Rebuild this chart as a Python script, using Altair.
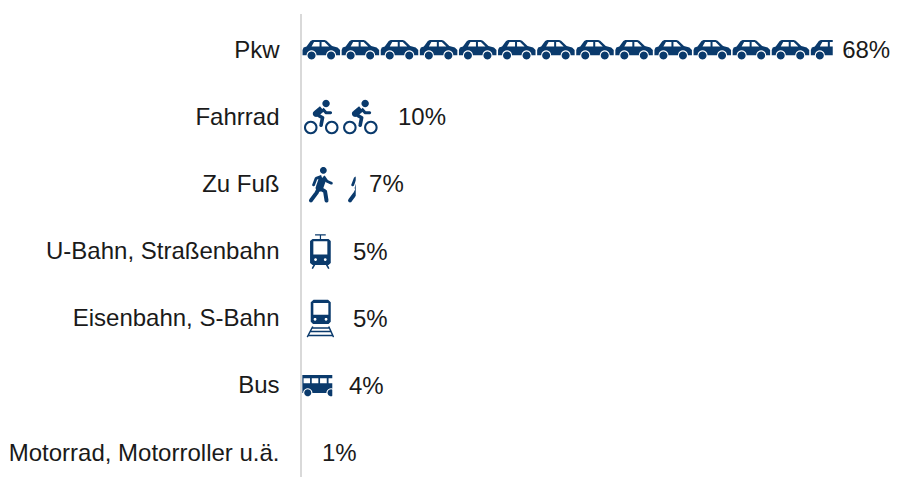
import math
import altair as alt
import pandas as pd

categories = ["Pkw", "Fahrrad", "Zu Fuß", "U-Bahn, Straßenbahn", "Eisenbahn, S-Bahn", "Bus", "Motorrad, Motorroller u.ä."]
values = [68, 10, 7, 5, 5, 4, 1]
labels = ["68%", "10%", "7%", "5%", "5%", "4%", "1%"]
label_pos = [69.2, 12.4, 8.7, 6.65, 6.65, 6.14, 2.68]
icon_keys = ["car", "bike", "walk", "tram", "train", "bus", "none"]
icon_unit = 5

NAVY = "#0a3a6c"
U = 19.55  # reference pixels per path unit


def P(x, y):
    return f"{x / U:.4f},{y / U:.4f}"


def poly(pts, hole=False):
    area = sum(pts[i][0] * pts[(i + 1) % len(pts)][1] - pts[(i + 1) % len(pts)][0] * pts[i][1] for i in range(len(pts)))
    if (area < 0) != hole:
        pts = pts[::-1]
    return "M" + " L".join(P(*p) for p in pts) + " Z "


def circle(cx, cy, r, hole=False):
    n = 24
    pts = [(cx + r * math.cos(2 * math.pi * i / n), cy + r * math.sin(2 * math.pi * i / n)) for i in range(n)]
    return poly(pts, hole)


def ring(cx, cy, r, w):
    return circle(cx, cy, r) + circle(cx, cy, r - w, True)


def rect(x0, y0, x1, y1, hole=False):
    return poly([(x0, y0), (x1, y0), (x1, y1), (x0, y1)], hole)


def stroke(pts, w):
    out = ""
    for (a, b), (c, d) in zip(pts, pts[1:]):
        L = math.hypot(c - a, d - b) or 1
        nx, ny = -(d - b) / L * w / 2, (c - a) / L * w / 2
        out += poly([(a + nx, b + ny), (c + nx, d + ny), (c - nx, d - ny), (a - nx, b - ny)])
        out += circle(c, d, w / 2)
    return out


def arch(cx, y, r, n=10):
    return [(cx + r * math.cos(math.pi * i / n), y - r * math.sin(math.pi * i / n)) for i in range(n + 1)]


car_body = [(-18, 4), (-18, 0), (-17, -2.5), (-14, -3.6), (-10, -9), (-8, -10), (4, -10), (6, -9.2), (11.5, -4), (17, -2.4), (19.5, 0), (19.5, 5.2)] \
    + [(16, 5.2)] + arch(10.5, 5.2, 5.0) + arch(-9, 5.2, 5.0) + [(-18, 5.2)]
PATHS = {
    "car": poly(car_body)
    + poly([(-9, -3.6), (-1, -3.6), (-1, -8), (-6.5, -8)], True)
    + poly([(1, -3.6), (8.5, -3.6), (4, -8), (1, -8)], True)
    + circle(10.5, 5.5, 4) + circle(-9, 5.5, 4),
    "bike": ring(-9.8, 10.3, 6.8, 2.1) + ring(11.2, 10.3, 6.8, 2.1)
    + circle(5.5, -13.7, 3.7)
    + stroke([(1.5, -8.5), (-4.5, -3.5)], 6.5)
    + stroke([(-5, -3.5), (2, 0.5), (0.5, 8)], 3.6)
    + stroke([(2, -8.5), (5.5, -4.5), (10, -4.5)], 3),
    "walk": circle(2.8, -14, 3.4)
    + stroke([(2.3, -6.5), (-1.2, 3.5)], 7.5)
    + stroke([(-1.5, 3.5), (-4, 8.5), (-9.6, 16)], 4)
    + stroke([(-0.5, 4), (4.5, 7), (6, 16.2)], 4)
    + stroke([(1, -8), (-4.5, -6), (-7, 0.5)], 2.8)
    + stroke([(3, -8), (6.5, -3.2), (10.8, -1.2)], 2.8),
    "tram": rect(-5.5, -17.3, 5.2, -16.1) + rect(-0.7, -17, 0.5, -12)
    + poly([(-8, -12.7), (8, -12.7), (10.2, -10.5), (10.2, 11.5), (8, 13.5), (-8, 13.5), (-10.5, 11.5), (-10.5, -10.5)])
    + rect(-7.2, -10.3, 6.8, 3, True)
    + circle(-5, 8, 1.4, True) + circle(4.7, 8, 1.4, True)
    + stroke([(-6, 13), (-8, 16.5)], 1.6) + stroke([(6, 13), (8, 16.5)], 1.6),
    "train": poly([(-7, -19), (7.5, -19), (10.2, -16.5), (10.2, 3), (8, 5.3), (-7.5, 5.3), (-9.8, 3), (-9.8, -16.5)])
    + rect(-7.2, -15.7, 7.8, -4, True)
    + circle(-5.5, 0.5, 1.4, True) + circle(5.5, 0.5, 1.4, True)
    + stroke([(-7.8, 7.7), (-13, 17.7)], 1.5) + stroke([(8.2, 7.7), (12.7, 17.7)], 1.5)
    + rect(-9, 8.5, 9.5, 10) + rect(-10.5, 12, 11, 13.5) + rect(-12.5, 16, 12.5, 17.5),
    "bus": poly([(-18.2, -11), (19, -11), (19, 7)] + [(15.5, 7)] + arch(10.5, 7, 4.7) + arch(-12.8, 7, 4.7) + [(-18.2, 7)])
    + rect(-17, -7.7, -10.5, -2.7, True) + rect(-8.8, -7.7, -2.2, -2.7, True)
    + rect(-0.5, -7.7, 6.2, -2.7, True) + rect(8, -7.7, 14, -2.7, True)
    + circle(-12.8, 6.8, 3.5) + circle(10.5, 6.8, 3.5),
}

rows = pd.DataFrame({"cat": categories, "value": values, "label": labels, "label_pos": label_pos})
rows["mask_end"] = [math.ceil(v / icon_unit) * icon_unit for v in values]
rows["zero"] = 0

icons = []
for cat, v, key in zip(categories, values, icon_keys):
    if key == "none":
        continue
    for i in range(math.ceil(v / icon_unit)):
        icons.append({"cat": cat, "pos": (i + 0.5) * icon_unit, "icon": key})
icons = pd.DataFrame(icons)

FONT = "Liberation Sans"
FSIZE = 24
x_scale = alt.Scale(domain=[0, 75.45], nice=False, zero=False)
y_scale = alt.Scale(type="point", domain=categories, padding=0.445, align=0.602)
y = alt.Y("cat:N", scale=y_scale, axis=alt.Axis(
    title=None, domain=False, ticks=False, grid=False, labelFontSize=FSIZE, labelFont=FONT,
    labelColor="#1a1a1a", labelPadding=22, labelLimit=400))

icon_layers = [
    alt.Chart(icons[icons["icon"] == k]).mark_point(
        filled=True, opacity=1, size=4 * U * U, strokeWidth=0, shape=PATHS[k], color=NAVY
    ).encode(x=alt.X("pos:Q", scale=x_scale, axis=None), y=y)
    for k in PATHS
]
mask = alt.Chart(rows).mark_bar(color="white", size=62).encode(
    x=alt.X("value:Q", scale=x_scale, axis=None), x2="mask_end:Q", y=y)
base_line = alt.Chart(rows).mark_rule(color="#d9d9d9", strokeWidth=2).encode(
    x=alt.X("zero:Q", scale=x_scale, axis=None), y=alt.value(0), y2=alt.value(463))
text = alt.Chart(rows).mark_text(align="left", dy=1, fontSize=FSIZE, font=FONT, color="#1a1a1a").encode(
    x=alt.X("label_pos:Q", scale=x_scale, axis=None), y=y, text="label:N")

chart = alt.layer(*icon_layers, mask, base_line, text).properties(
    width=590, height=463,
    autosize=alt.AutoSizeParams(type="none"),
    padding={"left": 293, "top": 6, "right": 0, "bottom": 0},
).configure_view(stroke=None)

chart.save("out.html", embed_options={"renderer": "svg", "actions": False})
